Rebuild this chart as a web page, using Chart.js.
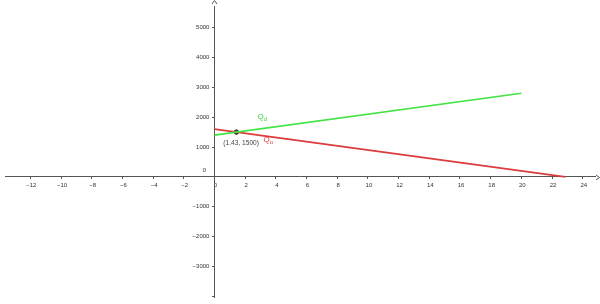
<!DOCTYPE html>
<html>
<head>
<meta charset="utf-8">
<script src="https://cdn.jsdelivr.net/npm/chart.js@4.4.1/dist/chart.umd.min.js"></script>
<style>
  body { margin: 0; background: #fff; }
  #wrap { width: 600px; height: 304px; }
</style>
</head>
<body>
<div id="wrap"><canvas id="chart" width="600" height="304"></canvas></div>
<script>
// line end points (x, y)
const greenX = [0, 20];
const greenY = [1400, 2800];
const redX = [0, 22.86];
const redY = [1600, 0];
const pointX = [1.43];
const pointY = [1500];

// tick labels
const xTicks = [-12, -10, -8, -6, -4, -2, 0, 2, 4, 6, 8, 10, 12, 14, 16, 18, 20, 22, 24];
const yTicks = [-4000, -3000, -2000, -1000, 0, 1000, 2000, 3000, 4000, 5000];

// text labels
const greenLabel = { x: 2.8, y: 1930, main: "Q", sub: "d" };
const redLabel = { x: 3.2, y: 1170, main: "Q", sub: "o" };
const pointLabel = { x: 0.58, y: 1120, text: "(1.43, 1500)" };
const originLabel = { x: -0.55, y: 130, text: "0" };

function toPoints(xs, ys) {
    return xs.map((x, i) => ({ x: x, y: ys[i] }));
}

function fmt(v) {
    return String(v).replace("-", "\u2212");
}

const AXIS = "#555";
const TEXT = "#333";
const FONT = "'Liberation Sans', Arial, sans-serif";

// draws arrows at axis ends and the text labels
const extrasPlugin = {
    id: "extras",
    afterDatasetsDraw(chart) {
        const ctx = chart.ctx;
        const xs = chart.scales.x;
        const ys = chart.scales.y;
        const ox = Math.round(xs.getPixelForValue(0)) + 0.5;
        const oy = Math.round(ys.getPixelForValue(0)) + 0.5;

        ctx.save();
        ctx.strokeStyle = AXIS;
        ctx.lineWidth = 1;
        ctx.beginPath();
        ctx.moveTo(ox - 2.5, 4);
        ctx.lineTo(ox, 0.5);
        ctx.lineTo(ox + 2.5, 4);
        ctx.moveTo(chart.width - 4, oy - 2.5);
        ctx.lineTo(chart.width - 0.5, oy);
        ctx.lineTo(chart.width - 4, oy + 2.5);
        ctx.stroke();

        function qLabel(lbl, color) {
            const px = xs.getPixelForValue(lbl.x);
            const py = ys.getPixelForValue(lbl.y);
            ctx.fillStyle = color;
            ctx.textBaseline = "alphabetic";
            ctx.textAlign = "left";
            ctx.font = "8px " + FONT;
            ctx.fillText(lbl.main, px, py);
            const w = ctx.measureText(lbl.main).width;
            ctx.font = "6px " + FONT;
            ctx.fillText(lbl.sub, px + w, py + 2);
        }
        qLabel(greenLabel, "#3cd83c");
        qLabel(redLabel, "#d83c3c");

        ctx.fillStyle = "#444";
        ctx.font = "6.6px " + FONT;
        ctx.textAlign = "left";
        ctx.textBaseline = "middle";
        ctx.fillText(pointLabel.text, xs.getPixelForValue(pointLabel.x), ys.getPixelForValue(pointLabel.y));

        ctx.fillStyle = TEXT;
        ctx.font = "6px " + FONT;
        ctx.textAlign = "right";
        ctx.textBaseline = "bottom";
        ctx.fillText(originLabel.text, xs.getPixelForValue(originLabel.x), ys.getPixelForValue(originLabel.y));
        ctx.restore();
    }
};

const tickFont = { family: FONT, size: 6 };

new Chart(document.getElementById("chart"), {
    type: "scatter",
    plugins: [extrasPlugin],
    data: {
        datasets: [
            {
                data: toPoints(greenX, greenY),
                showLine: true,
                borderColor: "#44e444",
                borderWidth: 1.6,
                pointRadius: 0
            },
            {
                data: toPoints(redX, redY),
                showLine: true,
                borderColor: "#dc3c3c",
                borderWidth: 1.6,
                pointRadius: 0
            },
            {
                data: toPoints(pointX, pointY),
                showLine: false,
                backgroundColor: "#333",
                borderColor: "#222",
                borderWidth: 1,
                pointRadius: 2.2
            }
        ]
    },
    options: {
        responsive: false,
        animation: false,
        layout: { padding: 0 },
        plugins: {
            legend: { display: false },
            tooltip: { enabled: false }
        },
        scales: {
            x: {
                type: "linear",
                min: -13.65,
                max: 24.8,
                position: { y: 0 },
                afterFit: (scale) => { scale.height = 0; },
                afterBuildTicks: (scale) => { scale.ticks = xTicks.map(v => ({ value: v })); },
                grid: { drawOnChartArea: false, drawTicks: true, tickLength: 2, color: AXIS },
                border: { color: AXIS, width: 1 },
                ticks: {
                    font: tickFont,
                    color: TEXT,
                    padding: 3,
                    maxRotation: 0,
                    autoSkip: false,
                    labelOffset: 1,
                    callback: (v) => fmt(v)
                }
            },
            y: {
                type: "linear",
                min: -4038,
                max: 5705,
                position: { x: 0 },
                afterFit: (scale) => { scale.width = 0; },
                afterBuildTicks: (scale) => { scale.ticks = yTicks.map(v => ({ value: v })); },
                grid: { drawOnChartArea: false, drawTicks: true, tickLength: 2, color: AXIS },
                border: { color: AXIS, width: 1 },
                ticks: {
                    font: tickFont,
                    color: TEXT,
                    padding: 3,
                    autoSkip: false,
                    // labels sit right on the axis here, so pad them with spaces
                    callback: (v) => (v === -4000 || v === 0 ? "" : fmt(v) + "   ")
                }
            }
        }
    }
});
</script>
</body>
</html>
